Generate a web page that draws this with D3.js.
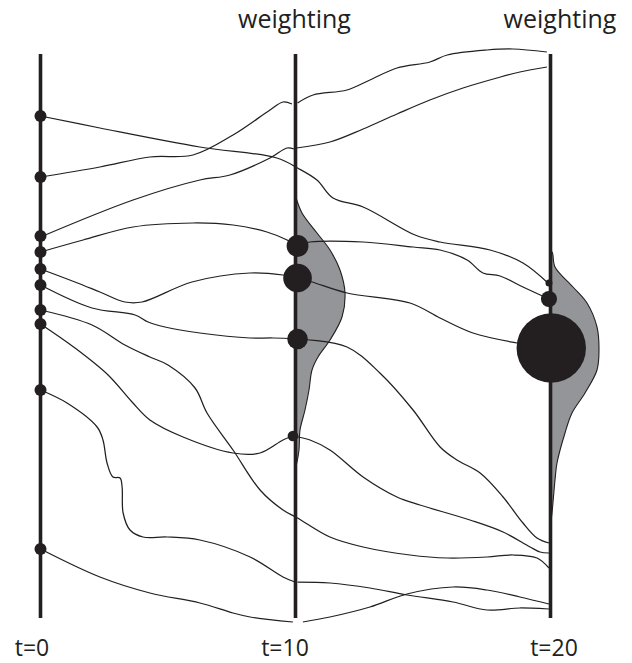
<!DOCTYPE html>
<html>
<head>
<meta charset="utf-8">
<script src="https://cdn.jsdelivr.net/npm/d3@7"></script>
<style>
  html, body { margin: 0; padding: 0; background: #ffffff; }
  svg { display: block; }
</style>
</head>
<body>
<svg id="chart" width="632" height="663"></svg>
<script>
// ---------- DATA ----------
// time steps drawn as vertical axes
const timeSteps = [0, 10, 20];
const timeLabels = ["t=0", "t=10", "t=20"];
const weightingTimes = [10, 20];
const weightingLabel = "weighting";

// particle positions (state, measured downward from top of the axes) at t=0
const particlesT0 = [62, 123, 182, 198, 215, 231, 256, 270, 336, 495];
const weightsT0 = [0.028, 0.028, 0.028, 0.028, 0.028, 0.028, 0.028, 0.028, 0.028, 0.028];

// weighted particles at t=10: [time, state, weight]
const particlesT10 = [[10.08, 192, 0.092], [10.08, 224, 0.158], [10.08, 285, 0.082], [9.90, 382, 0.022]];
// weighted particles at t=20: [time, state, weight]
const particlesT20 = [[19.94, 229, 0.0095], [19.94, 245, 0.05], [20.03, 294, 0.93]];

// trajectories between time steps: [time, state]
const trajT0 = [
  [[0,62],[2.33,74],[6.25,93],[9.27,104],[10.08,114],[10.84,126],[11.47,144],[12.65,153],[14.69,181],[15.67,188],[17.63,196],[18.92,209],[19.9,229]],
  [[0,123],[2.33,113],[4.29,103],[5.98,101],[7.55,81],[9.0,56],[9.51,48],[9.86,50]],
  [[0,183],[3.63,146],[6.25,126],[7.43,121],[9.0,104],[9.67,94],[9.94,95]],
  [[0,198],[1.67,186],[3.63,173],[5.98,169],[7.55,171],[8.88,178],[9.67,186],[10.08,192]],
  [[0,215],[1.35,228],[2.33,238],[3.31,248],[3.98,248],[5.94,228],[8.22,219],[9.51,221],[10.08,224]],
  [[0,231],[2.02,254],[3.71,261],[4.22,268],[4.88,273],[6.25,279],[8.22,284],[9.12,284],[10.08,285]],
  [[0,256],[2.02,271],[3.31,291],[4.29,303],[5.0,311],[6.06,334],[6.53,359],[7.55,396],[8.61,436],[9.51,456],[10.08,464],[11.35,483],[12.65,493],[14.49,501],[15.95,504],[17.51,503],[18.53,501],[19.47,504],[19.94,514]],
  [[0,270],[1.35,294],[2.65,321],[3.59,348],[4.29,366],[5.59,383],[7.55,399],[8.61,399],[9.51,386],[9.90,382]],
  [[0,336],[1.04,349],[2.22,373],[2.45,386],[2.61,409],[2.84,423],[3.12,424],[3.20,433],[3.24,459],[3.51,476],[4.02,483],[4.96,483],[6.25,486],[8.22,503],[9.51,523],[9.98,528]],
  [[0,495],[2.33,523],[4.29,539],[6.25,549],[7.55,559],[8.22,563],[9.90,568]]
];
const trajT10 = [
  [[10.08,49],[10.69,41],[12.02,36],[12.92,26],[13.98,14],[15.27,8],[15.95,1],[17.51,-4],[18.53,-5],[19.86,-2]],
  [[10.04,94],[11.35,88],[12.65,75],[13.98,60],[15.27,46],[16.57,34],[17.90,24],[18.80,18],[19.86,13]],
  [[10.08,191],[10.57,188],[12.65,188],[14.61,193],[15.67,196],[16.73,206],[17.35,219],[18.02,222],[18.92,233],[19.94,245]],
  [[10.08,224],[10.65,228],[12.02,239],[14.49,249],[15.67,264],[16.96,279],[18.69,289],[20,294]],
  [[10.08,285],[12.02,293],[13.31,319],[14.61,356],[15.67,393],[16.33,406],[17.24,419],[18.14,443],[18.92,469],[19.47,484],[19.94,489]],
  [[9.90,382],[10.57,386],[11.35,396],[12.65,423],[13.98,443],[14.88,451],[16.84,466],[18.14,478],[19.20,493],[19.59,498],[19.94,499]],
  [[10.08,528],[11.35,529],[12.92,534],[14.37,541],[16.18,548],[17.51,556],[18.80,554],[19.94,555]],
  [[10.29,568],[11.35,563],[12.92,553],[14.37,540],[16.18,533],[17.51,536],[18.80,543],[19.94,550]]
];

// weighting densities: [state, density]
const densityT10 = [[142,0],[159,0.13],[179,0.43],[196,0.69],[216,0.89],[239,0.99],[263,0.93],[286,0.69],[303,0.45],[316,0.33],[336,0.27],[356,0.19],[376,0.09],[396,0.07],[408,0.03],[414,0]];
const densityT20 = [[196,0],[199,0.04],[213,0.09],[233,0.45],[249,0.73],[273,0.93],[296,0.97],[316,0.93],[339,0.69],[359,0.43],[379,0.29],[409,0.13],[426,0.09],[459,0.03],[471,0]];

// ---------- DRAWING ----------
const ink = "#231f20";
const grey = "#939598";
const svg = d3.select("#chart");

const x = d3.scaleLinear().domain([0, 20]).range([40.5, 550.5]);
const y = d3.scaleLinear().domain([0, 564]).range([54, 618]);
const dens = d3.scaleLinear().domain([0, 1]).range([0, 50]);
const rad = d3.scaleSqrt().domain([0, 1]).range([0, 36]);

// density shapes
function drawDensity(data, t) {
  const area = d3.area()
    .curve(d3.curveCatmullRom.alpha(0.5))
    .y(d => y(d[0]))
    .x0(x(t))
    .x1(d => x(t) + dens(d[1]));
  svg.append("path").datum(data)
    .attr("d", area).attr("fill", grey).attr("stroke", "none");
  const line = d3.line()
    .curve(d3.curveCatmullRom.alpha(0.5))
    .y(d => y(d[0]))
    .x(d => x(t) + dens(d[1]));
  svg.append("path").datum(data)
    .attr("d", line).attr("fill", "none").attr("stroke", ink).attr("stroke-width", 1.1);
}
drawDensity(densityT10, 10);
drawDensity(densityT20, 20);

// axes
svg.append("g").selectAll("line").data(timeSteps).join("line")
  .attr("x1", d => x(d)).attr("x2", d => x(d))
  .attr("y1", y(0)).attr("y2", y(564))
  .attr("stroke", ink).attr("stroke-width", 3.6);

// trajectories
const traj = d3.line().curve(d3.curveCatmullRom.alpha(0.5)).x(d => x(d[0])).y(d => y(d[1]));
svg.append("g").selectAll("path").data(trajT0.concat(trajT10)).join("path")
  .attr("d", traj).attr("fill", "none").attr("stroke", ink).attr("stroke-width", 1.25);

// particles
svg.append("g").selectAll("circle").data(particlesT0.map((s, i) => [0, s, weightsT0[i]])).join("circle")
  .attr("cx", d => x(d[0])).attr("cy", d => y(d[1])).attr("r", d => rad(d[2])).attr("fill", ink);
svg.append("g").selectAll("circle").data(particlesT10).join("circle")
  .attr("cx", d => x(d[0])).attr("cy", d => y(d[1])).attr("r", d => rad(d[2])).attr("fill", ink);
svg.append("g").selectAll("circle").data(particlesT20).join("circle")
  .attr("cx", d => x(d[0])).attr("cy", d => y(d[1])).attr("r", d => rad(d[2])).attr("fill", ink);

// labels
const labelOffsets = [-8.5, -10.5, 3.5];
svg.append("g").selectAll("text").data(timeSteps).join("text")
  .attr("x", (d, i) => x(d) + labelOffsets[i]).attr("y", 656)
  .attr("text-anchor", "middle")
  .attr("font-family", "'Open Sans', sans-serif").attr("font-size", 23)
  .attr("fill", ink)
  .text((d, i) => timeLabels[i]);

const weightOffsets = [-1, 9.5];
svg.append("g").selectAll("text").data(weightingTimes).join("text")
  .attr("x", (d, i) => x(d) + weightOffsets[i]).attr("y", 28)
  .attr("text-anchor", "middle")
  .attr("font-family", "'Open Sans', sans-serif").attr("font-size", 25)
  .attr("fill", ink)
  .text(weightingLabel);
</script>
</body>
</html>
